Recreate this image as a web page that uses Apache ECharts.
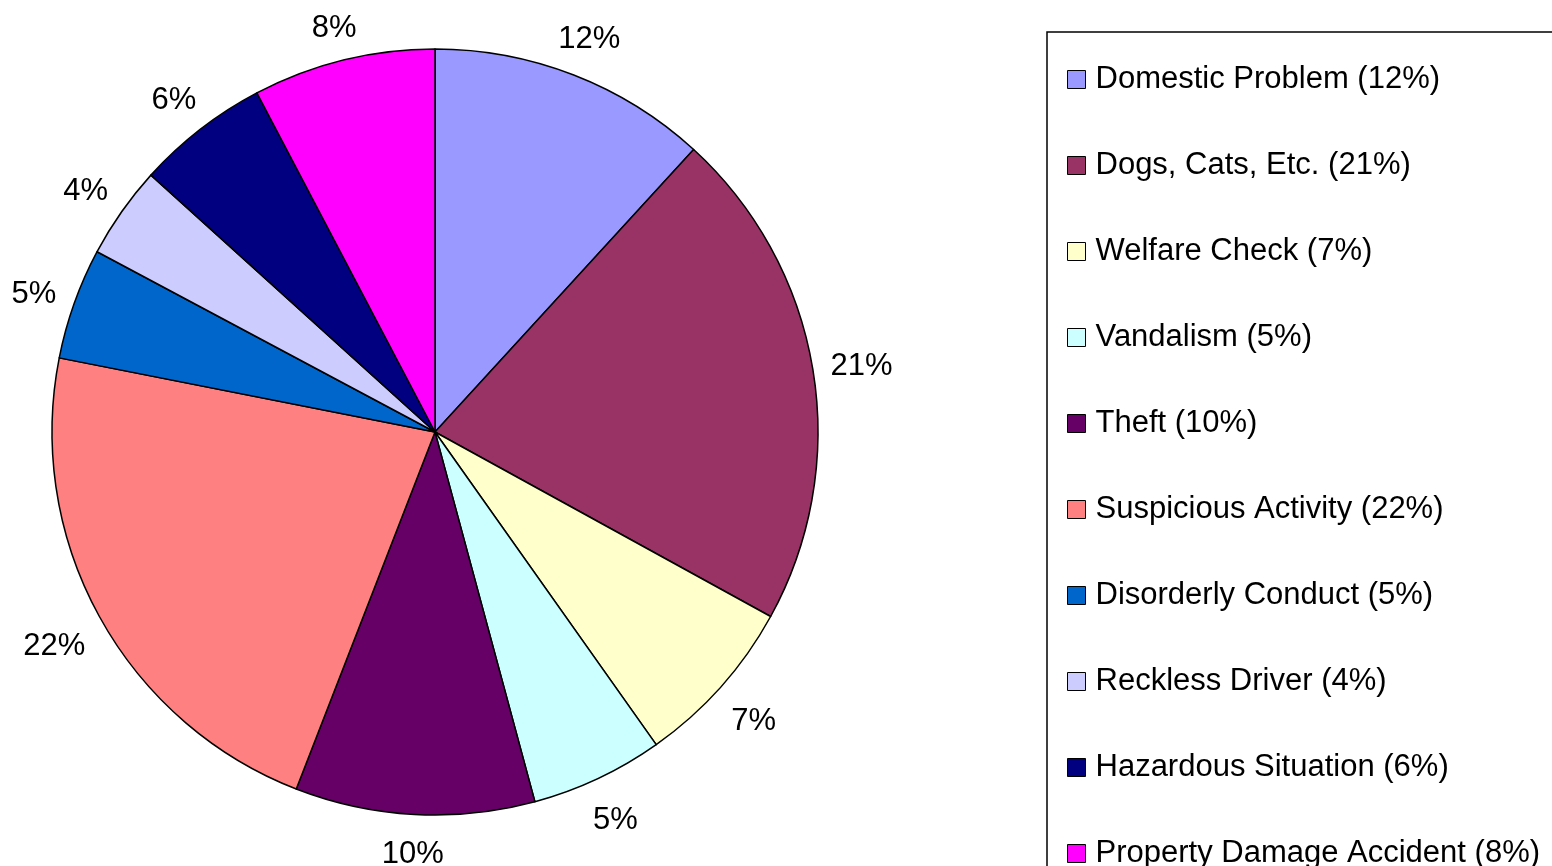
<!DOCTYPE html>
<html>
<head>
<meta charset="utf-8">
<script src="https://cdn.jsdelivr.net/npm/echarts@6/dist/echarts.min.js"></script>
<style>
  html, body { margin: 0; padding: 0; background: #fff; }
  #chart { width: 1552px; height: 866px; }
</style>
</head>
<body>
<div id="chart"></div>
<script>
  // slice categories, in drawing order (clockwise from 12 o'clock)
  var categories = [
    'Domestic Problem',
    'Dogs, Cats, Etc.',
    'Welfare Check',
    'Vandalism',
    'Theft',
    'Suspicious Activity',
    'Disorderly Conduct',
    'Reckless Driver',
    'Hazardous Situation',
    'Property Damage Accident'
  ];
  // slice shares
  var shares = [11.8, 21.2, 7.2, 5.6, 10.1, 22.2, 4.7, 3.9, 5.6, 7.7];
  // percentages as printed in the chart
  var percents = [12, 21, 7, 5, 10, 22, 5, 4, 6, 8];
  var colors = ['#9999FF', '#993366', '#FFFFCC', '#CCFFFF', '#660066',
                '#FF8080', '#0066CC', '#CCCCFF', '#000080', '#FF00FF'];

  var font = '"Liberation Sans", Arial, sans-serif';
  var pieCenter = [435, 432];
  var pieRadius = 383;
  var labelGap = 16;

  var pieData = [];
  for (var i = 0; i < categories.length; i++) {
    pieData.push({ name: categories[i], value: shares[i], pct: percents[i] });
  }

  var chart = echarts.init(document.getElementById('chart'));
  chart.setOption({
    animation: false,
    color: colors,
    legend: {
      orient: 'vertical',
      left: 1047,
      top: 32,
      height: 920,
      padding: [32, 40, 40, 20],
      itemGap: 55,
      itemWidth: 18,
      itemHeight: 18,
      icon: 'rect',
      borderColor: '#000',
      borderWidth: 1.5,
      itemStyle: { borderColor: '#000', borderWidth: 1 },
      textStyle: {
        fontFamily: font,
        fontSize: 31,
        lineHeight: 31,
        color: '#000',
        padding: [0, 0, 0, 5]
      },
      formatter: function (name) {
        return name + ' (' + percents[categories.indexOf(name)] + '%)';
      }
    },
    series: [{
      // the pie itself
      type: 'pie',
      center: pieCenter,
      radius: pieRadius,
      startAngle: 90,
      clockwise: true,
      itemStyle: { borderColor: '#000', borderWidth: 1.5 },
      label: { show: false },
      labelLine: { show: false },
      emphasis: { disabled: true },
      data: pieData
    }, {
      // invisible ring just outside the pie, gives each % label its slice's mid angle
      type: 'pie',
      center: pieCenter,
      radius: [pieRadius + 17, pieRadius + 71],
      startAngle: 90,
      clockwise: true,
      silent: true,
      itemStyle: { color: 'rgba(0,0,0,0)', borderWidth: 0 },
      label: {
        show: true,
        position: 'inside',
        rotate: 0,
        fontFamily: font,
        fontSize: 31,
        lineHeight: 34,
        color: '#000',
        formatter: function (p) { return p.data.pct + '%'; }
      },
      // push each label out so its box sits a fixed gap off the rim (Excel style)
      labelLayout: function (p) {
        var r = p.labelRect;
        var dx = r.x + r.width / 2 - pieCenter[0];
        var dy = r.y + r.height / 2 - pieCenter[1];
        var len = Math.sqrt(dx * dx + dy * dy);
        dx /= len; dy /= len;
        var d = pieRadius + labelGap + Math.abs(dx) * r.width / 2 + Math.abs(dy) * r.height / 2;
        return {
          x: pieCenter[0] + dx * d,
          y: pieCenter[1] + dy * d + 5,
          align: 'center',
          verticalAlign: 'middle'
        };
      },
      labelLine: { show: false },
      emphasis: { disabled: true },
      data: pieData
    }]
  });
</script>
</body>
</html>
